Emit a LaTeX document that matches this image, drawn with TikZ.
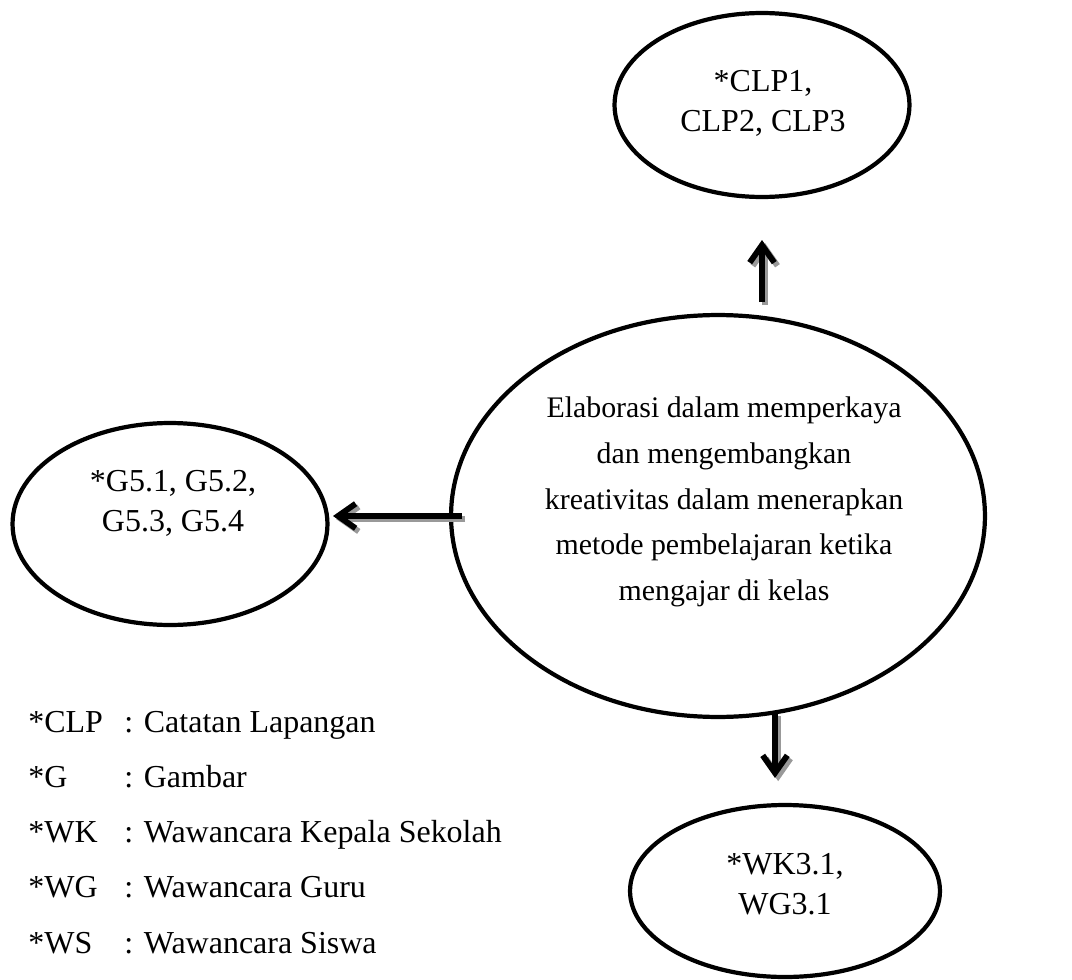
\documentclass[tikz,border=0pt]{standalone}
\usepackage{fontspec}
\setmainfont{Liberation Serif}
\usetikzlibrary{shapes.geometric,arrows.meta}
\tikzset{
  bubble/.style={ellipse, draw, line width=2.4pt, inner sep=0pt},
  label/.style={align=center, inner sep=0pt, font=\fontsize{18.2pt}{22.7pt}\selectfont},
  link/.style={line width=3.3pt, -{Straight Barb[length=10pt,width=14pt]}},
  linkshadow/.style={link, draw=black!40},
  legend/.style={anchor=base west, inner sep=0pt, font=\fontsize{18.2pt}{22.7pt}\selectfont}
}
\begin{document}
\begin{tikzpicture}[x=0.02cm, y=-0.02cm]
  \useasboundingbox (0,0) rectangle (1072,980);

  % ellipses
  \node[bubble, minimum width=5.9cm, minimum height=3.68cm] (clp) at (762,105) {};
  \node[bubble, minimum width=10.68cm, minimum height=8.04cm] (main) at (718,516) {};
  \node[bubble, minimum width=6.3cm, minimum height=4.04cm] (gbr) at (170,524) {};
  \node[bubble, minimum width=6.2cm, minimum height=3.44cm] (wwc) at (785,891) {};

  % texts inside the ellipses
  \node[label] (clpT) at (763,103) {*CLP1,\\CLP2, CLP3};
  \node[label, font=\fontsize{17pt}{26pt}\selectfont] (mainT) at (724,502)
    {Elaborasi dalam memperkaya\\dan mengembangkan\\kreativitas dalam menerapkan\\metode pembelajaran ketika\\mengajar di kelas};
  \node[label] (gbrT) at (173,503) {*G5.1, G5.2,\\G5.3, G5.4};
  \node[label] (wwcT) at (785,884) {*WK3.1,\\WG3.1};

  % arrow end points
  \coordinate (upS) at (762,302);
  \coordinate (upE) at (762,240);
  \coordinate (lfS) at (462,516);
  \coordinate (lfE) at (333,516);
  \coordinate (dnS) at (775,713);
  \coordinate (dnE) at (775,778);

  % shadows, then arrows
  \foreach \s/\e in {upS/upE, lfS/lfE, dnS/dnE} {
    \draw[linkshadow, transform canvas={shift={(1.8pt,-1.8pt)}}] (\s) -- (\e);
  }
  \foreach \s/\e in {upS/upE, lfS/lfE, dnS/dnE} {
    \draw[link] (\s) -- (\e);
  }

  % legend
  \foreach \k/\v [count=\i from 0] in {*CLP/Catatan Lapangan, *G/Gambar,
      *WK/Wawancara Kepala Sekolah, *WG/Wawancara Guru, *WS/Wawancara Siswa} {
    \node[legend] (k\i) at (28,{732+55.25*\i}) {\k};
    \node[legend] (v\i) at (124,{732+55.25*\i}) {: \v};
  }
\end{tikzpicture}
\end{document}
